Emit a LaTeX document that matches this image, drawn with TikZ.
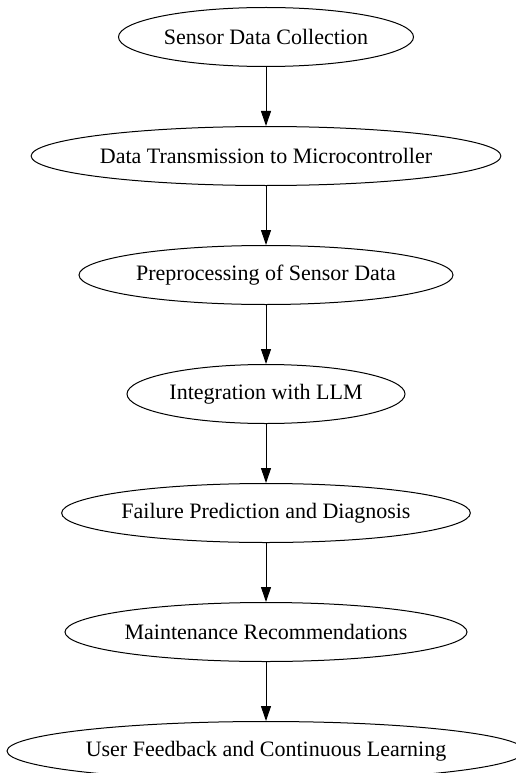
\documentclass[tikz,border=0pt]{standalone}
\usepackage{fontspec}
\setmainfont{Liberation Serif}
\usetikzlibrary{shapes.geometric,arrows.meta}
\begin{document}
\begin{tikzpicture}[x=1pt,y=-1pt,
  stage/.style={ellipse, draw=black, line width=1pt, inner sep=0pt,
    minimum height=59pt, font=\fontsize{22}{26}\selectfont},
  flow/.style={draw=black, line width=1pt, -{Triangle[length=15pt,width=10pt]}}]
\useasboundingbox (0,0) rectangle (516,773);
\clip (0,0) rectangle (516,773);
\node[stage, minimum width=295pt] (n1) at (266,37) {Sensor Data Collection};
\node[stage, minimum width=466pt] (n2) at (266,156) {Data Transmission to Microcontroller};
\node[stage, minimum width=374pt] (n3) at (266,275) {Preprocessing of Sensor Data};
\node[stage, minimum width=278pt] (n4) at (266,394) {Integration with LLM};
\node[stage, minimum width=408pt] (n5) at (266,513) {Failure Prediction and Diagnosis};
\node[stage, minimum width=402pt] (n6) at (266,632) {Maintenance Recommendations};
\node[stage, minimum width=518pt] (n7) at (266,751) {User Feedback and Continuous Learning};
\draw[flow] (n1) -- (n2);
\draw[flow] (n2) -- (n3);
\draw[flow] (n3) -- (n4);
\draw[flow] (n4) -- (n5);
\draw[flow] (n5) -- (n6);
\draw[flow] (n6) -- (n7);
\end{tikzpicture}
\end{document}
